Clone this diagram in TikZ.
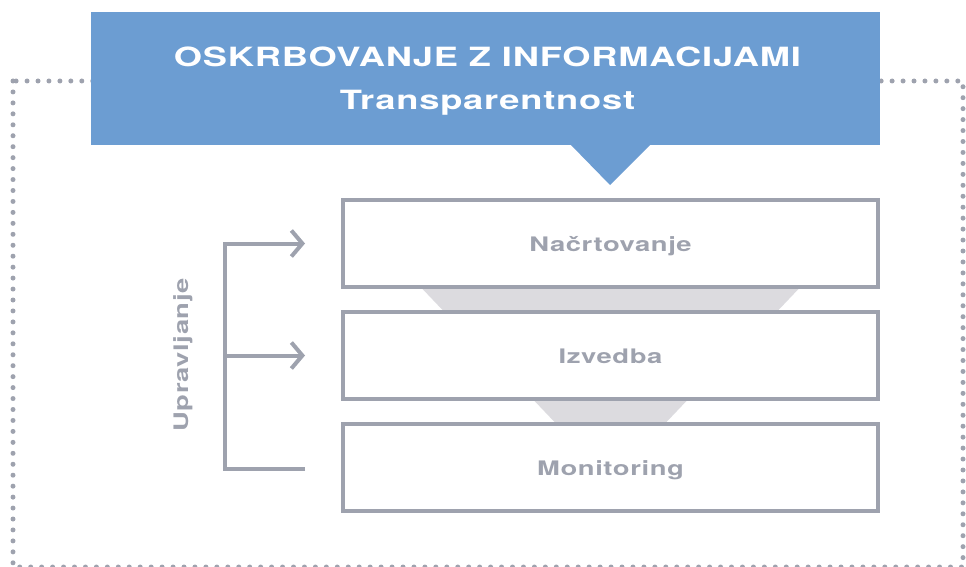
\documentclass[tikz,border=0pt]{standalone}
\usepackage{fontspec}
\setmainfont{TeX Gyre Heros}
\newfontfamily\widefont[FakeStretch=1.37, LetterSpace=3]{TeX Gyre Heros}
\usepackage{tikz}
\usetikzlibrary{arrows.meta,positioning,backgrounds}
\definecolor{osblue}{RGB}{108,157,210}
\definecolor{osgray}{RGB}{158,162,174}
\definecolor{osfunnel}{RGB}{220,219,223}
\tikzstyle{stage} = [rectangle, minimum width=535pt, minimum height=87pt, inner sep=0pt, text centered, text height=16pt, text depth=0pt, draw=osgray, fill=white, line width=4pt, text=osgray, font=\widefont\fontsize{20}{22}\selectfont\bfseries]
\tikzstyle{header} = [rectangle, minimum width=789pt, minimum height=133pt, inner sep=0pt, fill=osblue]
\tikzstyle{title} = [align=center, inner sep=0pt, text=white, font=\widefont\fontsize{26.5}{45}\selectfont\bfseries]
\tikzstyle{arrow} = [line width=4pt, color=osgray, -{Straight Barb[length=11pt,width=26pt]}]
\tikzstyle{funnel} = [fill=osfunnel]

\begin{document}
\begin{tikzpicture}[x=1pt, y=-1pt, node distance=21pt]
\useasboundingbox (0,0) rectangle (966,567);
\begin{scope}
\clip (0,0) rectangle (966,567);
\draw[osgray, line width=5pt, line cap=round, dash pattern=on 0pt off 10.95pt] (13,81) rectangle (963,567);
\end{scope}
\node (head) [header] at (485.5,78.5) {};
\node (headtext) [title] at ([xshift=2pt,yshift=-2.5pt]head.center) {OSKRBOVANJE Z INFORMACIJAMI\\[-2pt]Transparentnost};
\fill[osblue] (570,144) -- (651,144) -- (610,185) -- cycle;
\node (plan) [stage] at (610.5,243.5) {Načrtovanje};
\node (exec) [stage, below=of plan] {Izvedba};
\node (mon) [stage, below=of exec] {Monitoring};
% funnels between the stages
\begin{scope}[on background layer]
\fill[funnel] ([xshift=-188pt]plan.south) -- ([xshift=188pt]plan.south) -- ([xshift=168pt]exec.north) -- ([xshift=-168pt]exec.north) -- cycle;
\fill[funnel] ([xshift=-76pt]exec.south) -- ([xshift=76pt]exec.south) -- ([xshift=56pt]mon.north) -- ([xshift=-56pt]mon.north) -- cycle;
\end{scope}
% management bracket
\coordinate[left=36pt of plan.west] (in1);
\coordinate[left=36pt of exec.west] (in2);
\coordinate (in3) at ([yshift=-1pt]in2 |- mon.west);
\coordinate (spine) at ([xshift=-80pt]in1);
\draw[line width=4pt, osgray] (in3) -- (spine |- in3) -- (spine);
\draw[arrow] ([xshift=-2pt]spine) -- (in1);
\draw[arrow] (spine |- in2) -- (in2);
\node (mgmt) [text=osgray, font=\widefont\fontsize{20}{22}\selectfont\bfseries, rotate=90] at (183,355) {Upravljanje};
\end{tikzpicture}
\end{document}
